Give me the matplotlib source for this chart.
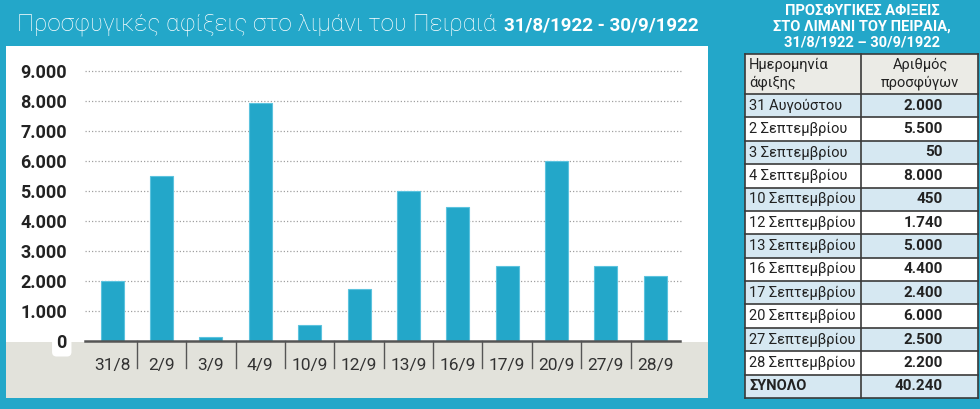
import matplotlib
matplotlib.use("Agg")
import matplotlib.pyplot as plt
from matplotlib.patches import Rectangle

# ---- data ----
categories = ["31/8", "2/9", "3/9", "4/9", "10/9", "12/9", "13/9", "16/9", "17/9", "20/9", "27/9", "28/9"]
bar_values = [2000, 5500, 120, 7930, 530, 1740, 5000, 4450, 2500, 6000, 2500, 2180]
yticks = [0, 1000, 2000, 3000, 4000, 5000, 6000, 7000, 8000, 9000]
ytick_labels = ["0", "1.000", "2.000", "3.000", "4.000", "5.000", "6.000", "7.000", "8.000", "9.000"]

table_dates = ["31 Αυγούστου", "2 Σεπτεμβρίου", "3 Σεπτεμβρίου", "4 Σεπτεμβρίου", "10 Σεπτεμβρίου",
               "12 Σεπτεμβρίου", "13 Σεπτεμβρίου", "16 Σεπτεμβρίου", "17 Σεπτεμβρίου",
               "20 Σεπτεμβρίου", "27 Σεπτεμβρίου", "28 Σεπτεμβρίου", "ΣΥΝΟΛΟ"]
table_counts = ["2.000", "5.500", "50", "8.000", "450", "1.740", "5.000", "4.400", "2.400",
                "6.000", "2.500", "2.200", "40.240"]

title = "Προσφυγικές αφίξεις στο λιμάνι του Πειραιά"
title_dates = "31/8/1922 - 30/9/1922"
table_title = "ΠΡΟΣΦΥΓΙΚΕΣ ΑΦΙΞΕΙΣ\nΣΤΟ ΛΙΜΑΝΙ ΤΟΥ ΠΕΙΡΑΙΑ,\n31/8/1922 – 30/9/1922"
header1 = "Ημερομηνία\nάφιξης"
header2 = "Αριθμός\nπροσφύγων"

# ---- style ----
TEAL = "#23a7c9"
GREY = "#e2e2db"
ROWBLUE = "#d6e8f2"
HEADGREY = "#ebebe6"
DARK = "#222222"
FONT = ["Roboto", "DejaVu Sans"]
plt.rcParams["font.family"] = FONT

W, H = 980, 409
fig = plt.figure(figsize=(W / 100, H / 100), dpi=100, facecolor=TEAL)


def fx(x):
    return x / W


def fy(y):  # y from top in px
    return 1 - y / H


def rect(x0, y0, x1, y1, **kw):
    fig.add_artist(Rectangle((fx(x0), fy(y1)), fx(x1) - fx(x0), fy(y0) - fy(y1),
                             transform=fig.transFigure, **kw))


# panels
rect(6, 46, 708, 398, facecolor="white", edgecolor="none", zorder=0)
rect(6, 342, 708, 398, facecolor=GREY, edgecolor="none", zorder=0)

# titles
t1 = fig.text(fx(17), fy(31), title, color="white", fontsize=17.5, fontweight="light",
              ha="left", va="baseline")
renderer = fig.canvas.get_renderer()
bb = t1.get_window_extent(renderer)
fig.text(fx(bb.x1 + 7), fy(30), title_dates, color="white", fontsize=13.5, fontweight="bold",
         ha="left", va="baseline")

# ---- chart ----
ax_left, ax_right = 85, 680
ax_bottom_px = H - 341
ax_top_px = H - 46
ax = fig.add_axes([fx(ax_left), ax_bottom_px / H, (ax_right - ax_left) / W,
                   (ax_top_px - ax_bottom_px) / H])
ax.set_facecolor("none")
n = len(categories)
xs = list(range(n))
ax.bar(xs, bar_values, width=0.465, color=TEAL, edgecolor="#5cc3de", linewidth=0.8, zorder=3)
ax.set_xlim(-0.55, n - 0.5)
ax.set_ylim(0, 9820)
for s in ax.spines.values():
    s.set_visible(False)
ax.set_yticks(yticks)
ax.set_yticklabels(ytick_labels, fontsize=13, fontweight="bold", color=DARK)
ax.tick_params(axis="y", length=0, pad=13)
for lbl in ax.get_yticklabels():
    if lbl.get_text() == "0":
        lbl.set_bbox(dict(boxstyle="round,pad=0.25", fc="white", ec="none"))
ax.set_xticks(xs)
ax.set_xticklabels(categories, fontsize=12.5, color="#333333")
ax.tick_params(axis="x", length=0, pad=12)
for y in yticks[1:]:
    ax.axhline(y, xmin=0, xmax=1.005, color="#a0a0a0", linestyle=(0, (1, 1.6)),
               linewidth=0.9, zorder=1, clip_on=False)
ax.axhline(0, color="#555555", linewidth=1.8, zorder=4, clip_on=False)
per_px = 1000 / 30.04
for b in range(1, n):
    ax.plot([b - 0.5, b - 0.5], [0, -27 * per_px], color="#555555", linewidth=1.0,
            clip_on=False, zorder=4)

# ---- table ----
tx0, tx1, tcol = 745, 978, 861
ty0, thead = 54, 94
row_h = (398 - thead) / len(table_dates)

fig.text(fx(862), fy(27), table_title, color="white", fontsize=10.5, fontweight="bold",
         ha="center", va="center", linespacing=1.15)

rect(tx0, ty0, tx1, thead, facecolor=HEADGREY, edgecolor="none", zorder=1)
for i, (d, c) in enumerate(zip(table_dates, table_counts)):
    y0 = thead + i * row_h
    y1 = y0 + row_h
    rect(tx0, y0, tx1, y1, facecolor=ROWBLUE if i % 2 == 0 else "white",
         edgecolor="none", zorder=1)
    ymid = (y0 + y1) / 2
    is_total = i == len(table_dates) - 1
    fig.text(fx(749), fy(ymid), d, fontsize=10.5, color=DARK, ha="left", va="center",
             fontweight="bold" if is_total else "normal", zorder=3)
    fig.text(fx(943), fy(ymid), c, fontsize=11, color=DARK, ha="right", va="center",
             fontweight="bold", zorder=3)

# grid lines of table
lc = "#3a3a3a"
for i in range(len(table_dates) + 1):
    y = thead + i * row_h
    fig.add_artist(plt.Line2D([fx(tx0), fx(tx1)], [fy(y), fy(y)], color=lc, linewidth=1.2,
                              transform=fig.transFigure, zorder=2))
fig.add_artist(plt.Line2D([fx(tx0), fx(tx1)], [fy(ty0), fy(ty0)], color=lc, linewidth=1.2,
                          transform=fig.transFigure, zorder=2))
for x in (tx0, tcol, tx1):
    fig.add_artist(plt.Line2D([fx(x), fx(x)], [fy(ty0), fy(398)], color=lc, linewidth=1.2,
                              transform=fig.transFigure, zorder=2))

fig.text(fx(749), fy((ty0 + thead) / 2), header1, fontsize=10.5, color=DARK, ha="left",
         va="center", linespacing=1.25, zorder=3)
fig.text(fx(920), fy((ty0 + thead) / 2), header2, fontsize=10.5, color=DARK, ha="center",
         va="center", linespacing=1.25, zorder=3)

fig.savefig("out.png", dpi=100, facecolor=TEAL)
